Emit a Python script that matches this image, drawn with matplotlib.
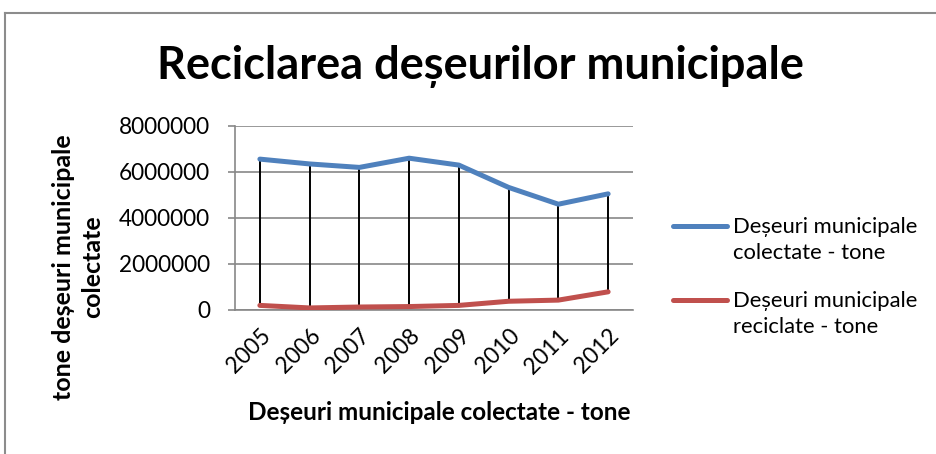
import numpy as np
import matplotlib.pyplot as plt
from matplotlib.lines import Line2D

YEARS = ["2005", "2006", "2007", "2008", "2009", "2010", "2011", "2012"]
COLLECTED = [6560000, 6350000, 6200000, 6600000, 6300000, 5330000, 4600000, 5050000]
RECYCLED = [200000, 90000, 130000, 150000, 200000, 380000, 430000, 790000]
YTICKS = [0, 2000000, 4000000, 6000000, 8000000]
SERIES_LABELS = [["Deșeuri municipale", "colectate - tone"],
                 ["Deșeuri municipale", "reciclate - tone"]]

BLUE = "#4F81BD"
RED = "#C0504D"
GRID = "#878787"

plt.rcParams["font.family"] = ["Lato", "DejaVu Sans"]

fig = plt.figure(figsize=(9.36, 4.54), dpi=100)
ax = fig.add_axes([235 / 936, 1 - 310 / 454, 398 / 936, 184 / 454])

x = np.arange(len(YEARS))
ax.vlines(x, RECYCLED, COLLECTED, color="black", linewidth=1.4, zorder=3)
line_c, = ax.plot(x, COLLECTED, color=BLUE, linewidth=3.6, solid_capstyle="round", zorder=4)
line_r, = ax.plot(x, RECYCLED, color=RED, linewidth=3.6, solid_capstyle="round", zorder=4)

ax.set_xlim(-0.5, len(YEARS) - 0.5)
ax.set_ylim(0, 8000000)
ax.set_yticks(YTICKS)
ax.set_yticklabels([str(v) for v in YTICKS], fontsize=16.3)
ax.set_xticks(x)
ax.set_xticklabels(YEARS, fontsize=16.3, rotation=45, ha="right", rotation_mode="anchor")
ax.tick_params(axis="x", length=0, pad=11)
ax.tick_params(axis="y", length=5, color=GRID, width=1.2, pad=13)
ax.grid(axis="y", color=GRID, linewidth=1.2)
ax.set_axisbelow(True)
for side in ["top", "right"]:
    ax.spines[side].set_visible(False)
for side in ["left", "bottom"]:
    ax.spines[side].set_color(GRID)
    ax.spines[side].set_linewidth(1.2)

fig.text(480 / 936, 1 - 66 / 454, "Reciclarea deșeurilor municipale", fontsize=32.5,
         fontweight="bold", ha="center", va="center")
fig.text(78 / 936, 1 - 267 / 454, "tone deșeuri municipale\ncolectate", fontsize=18,
         fontweight="bold", ha="center", va="center", rotation=90, linespacing=1.3)
fig.text(439 / 936, 1 - 413 / 454, "Deșeuri municipale colectate - tone", fontsize=17.5,
         fontweight="bold", ha="center", va="center")

# Excel-style legend: the line sits next to the first line of each label
blank = Line2D([], [], color="none")
for handle, labels, yc in [(line_c, SERIES_LABELS[0], 240), (line_r, SERIES_LABELS[1], 314)]:
    fig.legend([handle, blank], labels, loc="center left",
               bbox_to_anchor=(673 / 936, 1 - yc / 454), frameon=False, fontsize=15.8,
               handlelength=2.45, handletextpad=0.27, labelspacing=0.25,
               borderpad=0, borderaxespad=0)

# outer chart border (only top and left edges visible)
fig.add_artist(Line2D([5 / 936, 5 / 936], [0, 1 - 13 / 454], color="#8C8C8C", linewidth=1.5))
fig.add_artist(Line2D([5 / 936, 1], [1 - 13 / 454, 1 - 13 / 454], color="#8C8C8C", linewidth=1.5))

fig.savefig("out.png", dpi=100)
